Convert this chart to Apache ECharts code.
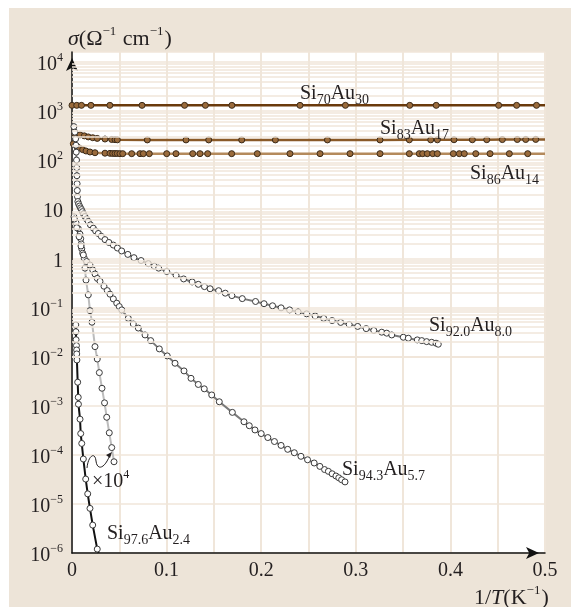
<!DOCTYPE html>
<html>
<head>
<meta charset="utf-8">
<script src="https://cdn.jsdelivr.net/npm/echarts@6/dist/echarts.min.js"></script>
<style>
html, body { margin: 0; padding: 0; background: #fff; }
#bg { position: absolute; left: 9px; top: 8px; width: 562px; height: 599px; background: #ede4d8; }
#chart { position: absolute; left: 0; top: 0; width: 571px; height: 607px; }
</style>
</head>
<body>
<div id="bg"></div>
<div id="chart"></div>
<script>
// conductivity sigma (Ohm^-1 cm^-1) vs 1/T (K^-1), pairs [x, sigma]
const si70 = [[0, 1300], [0.005, 1300], [0.010, 1300], [0.020, 1300], [0.040, 1300], [0.074, 1300],
    [0.119, 1300], [0.141, 1300], [0.169, 1300], [0.241, 1300], [0.289, 1300], [0.357, 1300],
    [0.385, 1300], [0.451, 1300], [0.470, 1300], [0.491, 1300]];

const si83 = [[0.003, 345], [0.0085, 326], [0.013, 311], [0.0172, 296], [0.0219, 285], [0.0267, 276],
    [0.0349, 268], [0.042, 262], [0.0455, 260], [0.0479, 258], [0.0796, 257], [0.1205, 257],
    [0.1445, 257], [0.1794, 257], [0.215, 257], [0.270, 257], [0.3256, 257], [0.3566, 258],
    [0.3792, 258], [0.3862, 258], [0.4038, 259], [0.4232, 259], [0.4384, 260], [0.4549, 261],
    [0.4707, 262], [0.4796, 262], [0.4902, 263]];

const si86 = [[0.0014, 215], [0.005, 190], [0.0077, 176], [0.0113, 163], [0.0148, 153], [0.019, 146],
    [0.0243, 141], [0.0349, 138], [0.0402, 137], [0.043, 136], [0.0455, 136], [0.0479, 136],
    [0.0507, 135], [0.0536, 135], [0.0631, 135], [0.0719, 135], [0.0754, 135], [0.0817, 135],
    [0.1001, 135], [0.1099, 135], [0.1276, 135], [0.1353, 135], [0.1434, 135], [0.1688, 135],
    [0.1959, 135], [0.2304, 135], [0.2622, 135], [0.2939, 135], [0.3256, 135], [0.3566, 135],
    [0.3671, 135], [0.3707, 135], [0.3756, 135], [0.3813, 135], [0.3862, 135], [0.4031, 135],
    [0.4094, 135], [0.4147, 135], [0.4268, 135], [0.4419, 135], [0.4623, 135], [0.4817, 135]];

const si92 = [[0.0020, 480], [0.0030, 370], [0.0038, 270], [0.0042, 200], [0.0045, 145], [0.0048, 100],
    [0.0050, 70], [0.0052, 48], [0.0054, 33], [0.0056, 24], [0.0058, 18], [0.0062, 14.3],
    [0.0070, 12.8], [0.0080, 11.6], [0.0090, 10.6], [0.0100, 9.8], [0.0110, 8.9], [0.0122, 8.0],
    [0.0137, 7.1], [0.0154, 6.3], [0.0172, 5.6], [0.0195, 4.8], [0.0225, 4.1], [0.0250, 3.6],
    [0.0278, 3.2], [0.0310, 2.8], [0.0349, 2.4], [0.0390, 2.1], [0.0437, 1.86], [0.0480, 1.62],
    [0.0525, 1.41], [0.0590, 1.2], [0.0655, 1.03], [0.0730, 0.9], [0.0807, 0.78], [0.0870, 0.69],
    [0.0916, 0.63], [0.1001, 0.54], [0.1100, 0.45], [0.1180, 0.38], [0.1270, 0.33], [0.1335, 0.295],
    [0.1400, 0.265], [0.1460, 0.24], [0.1550, 0.219], [0.1620, 0.195], [0.1690, 0.174], [0.1800, 0.151],
    [0.1940, 0.132], [0.2030, 0.119], [0.2120, 0.108], [0.2210, 0.098], [0.2300, 0.089], [0.2390, 0.081],
    [0.2480, 0.074], [0.2570, 0.067], [0.2660, 0.060], [0.2750, 0.054], [0.2840, 0.0495], [0.2930, 0.045],
    [0.3020, 0.041], [0.3110, 0.037], [0.3190, 0.034], [0.3274, 0.0313], [0.3327, 0.0299], [0.3380, 0.0275],
    [0.3502, 0.0247], [0.3555, 0.0236], [0.3650, 0.0218], [0.3697, 0.0211], [0.3749, 0.0201], [0.3802, 0.0195],
    [0.3848, 0.0187], [0.3872, 0.0178]];

const si94 = [[0.0021, 7.0], [0.0042, 5.3], [0.0067, 4.0], [0.0085, 3.1], [0.0092, 2.5], [0.0098, 1.96],
    [0.0103, 1.56], [0.0113, 1.27], [0.013, 1.0], [0.0155, 0.86], [0.019, 0.73], [0.0219, 0.58],
    [0.0243, 0.48], [0.0267, 0.39], [0.0296, 0.34], [0.0338, 0.27], [0.0373, 0.22], [0.0402, 0.186],
    [0.0437, 0.149], [0.0473, 0.122], [0.05, 0.104], [0.0526, 0.089], [0.0595, 0.060], [0.0648, 0.046],
    [0.0701, 0.038], [0.0772, 0.0275], [0.0832, 0.0211], [0.0923, 0.0143], [0.1007, 0.0103], [0.1089, 0.0073],
    [0.1184, 0.0051], [0.1258, 0.0036], [0.1335, 0.0027], [0.1398, 0.0022], [0.1477, 0.00165], [0.1557, 0.0012],
    [0.1695, 0.00073], [0.1818, 0.00047], [0.1874, 0.00039], [0.1934, 0.00032], [0.2, 0.00027], [0.207, 0.000224],
    [0.214, 0.000186], [0.221, 0.000155], [0.228, 0.000129], [0.235, 0.00011], [0.242, 0.000093], [0.249, 0.000079],
    [0.256, 0.000068], [0.262, 0.000058], [0.267, 0.00005], [0.271, 0.000046], [0.275, 0.000041], [0.279, 0.000037],
    [0.282, 0.000034], [0.285, 0.000031], [0.2886, 0.000028]];

// Si97.6Au2.4 scaled by 1e4
const si976x1e4 = [[0.0025, 6.3], [0.005, 4.2], [0.0075, 2.75], [0.0095, 1.78], [0.012, 1.17], [0.0137, 0.63],
    [0.0148, 0.36], [0.0172, 0.18], [0.019, 0.086], [0.0211, 0.05], [0.0243, 0.0159], [0.0267, 0.0089],
    [0.0289, 0.0047], [0.0317, 0.00226], [0.0344, 0.00114], [0.0367, 0.00058], [0.0394, 0.00028],
    [0.042, 0.00014], [0.0444, 0.000072]];

const si976 = [[0.0040, 0.044], [0.0041, 0.032], [0.0043, 0.022], [0.0047, 0.0167], [0.0049, 0.0136],
    [0.0050, 0.0113], [0.0052, 0.0085], [0.0060, 0.0030], [0.0066, 0.00148], [0.0068, 0.00107],
    [0.0085, 0.00053], [0.0092, 0.00027], [0.0103, 0.00017], [0.012, 0.000082], [0.0145, 0.000032],
    [0.0166, 0.000016], [0.019, 0.0000081], [0.0219, 0.0000037], [0.0267, 0.0000012]];
const si976Tail = [0.028, 0.000001];

const xTicks = [0, 0.1, 0.2, 0.3, 0.4, 0.5];
const decades = [-6, -5, -4, -3, -2, -1, 0, 1, 2, 3];
const minorSteps = [2, 3, 4, 5, 6, 7, 8, 9];

const serif = "'Liberation Serif', 'Times New Roman', serif";
const ink = '#231f20';
const gridColor = '#f0e6da';

const minorY = [];
decades.forEach(d => minorSteps.forEach(k => minorY.push(k * Math.pow(10, d))));

const brownItem = { color: '#9a6b3c', borderColor: '#3b2a18', borderWidth: 1 };
const whiteItem = { color: '#ffffff', borderColor: '#3a3a3a', borderWidth: 1 };

function metalSeries(pairs, lineColor) {
    const data = pairs.map(p => [p[0], p[1]]);
    data.push({ value: [0.5, pairs[pairs.length - 1][1]], symbol: 'none' });
    return {
        type: 'line', data: data, symbol: 'circle', symbolSize: 6,
        itemStyle: brownItem, lineStyle: { color: lineColor, width: 2.5 }, z: 3
    };
}

function curveSeries(pairs, lineColor, lineWidth) {
    return {
        type: 'line', data: pairs.map(p => [p[0], p[1]]), symbol: 'circle', symbolSize: 6,
        itemStyle: whiteItem, lineStyle: { color: lineColor, width: lineWidth }, z: 3
    };
}

const labelRich = {
    n: { fontFamily: serif, fontSize: 20, lineHeight: 20, verticalAlign: 'top', padding: [3, 0, 0, 0], fill: ink },
    s: { fontFamily: serif, fontSize: 14, lineHeight: 14, verticalAlign: 'top', padding: [12, 0, 0, 0], fill: ink },
    p: { fontFamily: serif, fontSize: 12, lineHeight: 12, verticalAlign: 'top', fill: ink },
    N: { fontFamily: serif, fontSize: 22, lineHeight: 22, verticalAlign: 'top', padding: [3, 0, 0, 0], fill: ink },
    I: { fontFamily: serif, fontSize: 22, fontStyle: 'italic', lineHeight: 22, verticalAlign: 'top', padding: [3, 0, 0, 0], fill: ink },
    P: { fontFamily: serif, fontSize: 13, lineHeight: 13, verticalAlign: 'top', padding: [0, 1, 0, 0], fill: ink }
};

function label(text, x, y) {
    return {
        type: 'text', x: x, y: y, z: 10,
        style: { text: text, rich: labelRich, fill: ink, align: 'left', verticalAlign: 'middle' }
    };
}

const chart = echarts.init(document.getElementById('chart'));

chart.setOption({
    animation: false,
    backgroundColor: 'transparent',
    grid: { left: 72, right: 26, top: 52, bottom: 54, show: true, backgroundColor: '#ffffff', borderWidth: 0 },
    xAxis: {
        type: 'value', min: xTicks[0], max: xTicks[xTicks.length - 1], interval: 0.1,
        axisLine: { show: true, lineStyle: { color: '#111', width: 1.5 }, symbol: ['none', 'arrow'], symbolSize: [9, 13], symbolOffset: [0, -6] },
        axisTick: { show: false },
        minorTick: { show: false, splitNumber: 2 },
        splitLine: { show: true, lineStyle: { color: gridColor, width: 2 } },
        minorSplitLine: { show: true, lineStyle: { color: gridColor, width: 2 } },
        axisLabel: { color: ink, fontFamily: serif, fontSize: 20, margin: 8 }
    },
    yAxis: {
        type: 'log', logBase: 10, min: 1e-6, max: Math.pow(10, 4.2), interval: 1,
        axisLine: { show: true, lineStyle: { color: '#111', width: 1.5 }, symbol: ['none', 'arrow'], symbolSize: [9, 13], symbolOffset: [0, -6] },
        axisTick: { show: false },
        splitLine: { show: true, lineStyle: { color: gridColor, width: 1.5 } },
        axisLabel: {
            margin: 9,
            formatter: function (v) {
                const l = Math.log10(v);
                const e = Math.round(l);
                if (Math.abs(l - e) > 1e-6 || e > 4) return '';
                if (e === 1) return '{n|10}';
                if (e === 0) return '{n|1}';
                return '{n|10}{p|' + (e < 0 ? '\u2212' + (-e) : e) + '}';
            },
            rich: {
                n: { color: ink, fontFamily: serif, fontSize: 20, lineHeight: 20, verticalAlign: 'top', padding: [3, 0, 0, 0] },
                p: { color: ink, fontFamily: serif, fontSize: 12, lineHeight: 12, verticalAlign: 'top' }
            }
        }
    },
    series: [
        {
            type: 'line', data: [], z: 1, silent: true,
            markLine: {
                silent: true, symbol: ['none', 'none'], label: { show: false },
                lineStyle: { color: gridColor, width: 1.5, type: 'solid' },
                data: minorY.map(v => ({ yAxis: v }))
            }
        },
        metalSeries(si70, '#6a3a0c'),
        metalSeries(si83, '#8a5a28'),
        metalSeries(si86, '#b48a5c'),
        curveSeries(si92, '#7a7a7a', 2),
        curveSeries(si94, '#7a7a7a', 2),
        curveSeries(si976x1e4, '#bdbdbd', 2),
        {
            type: 'line', z: 3,
            data: si976.map(p => [p[0], p[1]]).concat([{ value: si976Tail, symbol: 'none' }]),
            symbol: 'circle', symbolSize: 6, itemStyle: whiteItem,
            lineStyle: { color: '#111', width: 2 }
        }
    ],
    graphic: [
        label('{I|\u03c3}{N|(\u03a9}{P|\u22121}{N| cm}{P|\u22121}{N|)}', 68, 36),
        label('{N|1/}{I|T}{N|(K}{P|\u22121}{N|)}', 474, 595),
        label('{n|Si}{s|70}{n|Au}{s|30}', 300, 91),
        label('{n|Si}{s|83}{n|Au}{s|17}', 380, 126),
        label('{n|Si}{s|86}{n|Au}{s|14}', 470, 171),
        label('{n|Si}{s|92.0}{n|Au}{s|8.0}', 429, 323),
        label('{n|Si}{s|94.3}{n|Au}{s|5.7}', 342, 467),
        label('{n|Si}{s|97.6}{n|Au}{s|2.4}', 107, 531),
        label('{n|\u00d710}{p|4}', 92, 479),
        {
            type: 'bezierCurve', z: 10,
            shape: { x1: 87, y1: 468, cpx1: 88, cpy1: 456, cpx2: 95, cpy2: 451, x2: 96, y2: 461 },
            style: { stroke: ink, fill: null, lineWidth: 1 }
        },
        {
            type: 'bezierCurve', z: 10,
            shape: { x1: 96, y1: 461, cpx1: 97, cpy1: 470, cpx2: 104, cpy2: 470, x2: 110, y2: 455 },
            style: { stroke: ink, fill: null, lineWidth: 1 }
        },
        {
            type: 'polygon', z: 10,
            shape: { points: [[112, 452], [106, 455], [110, 458]] },
            style: { fill: ink }
        }
    ]
});
</script>
</body>
</html>
